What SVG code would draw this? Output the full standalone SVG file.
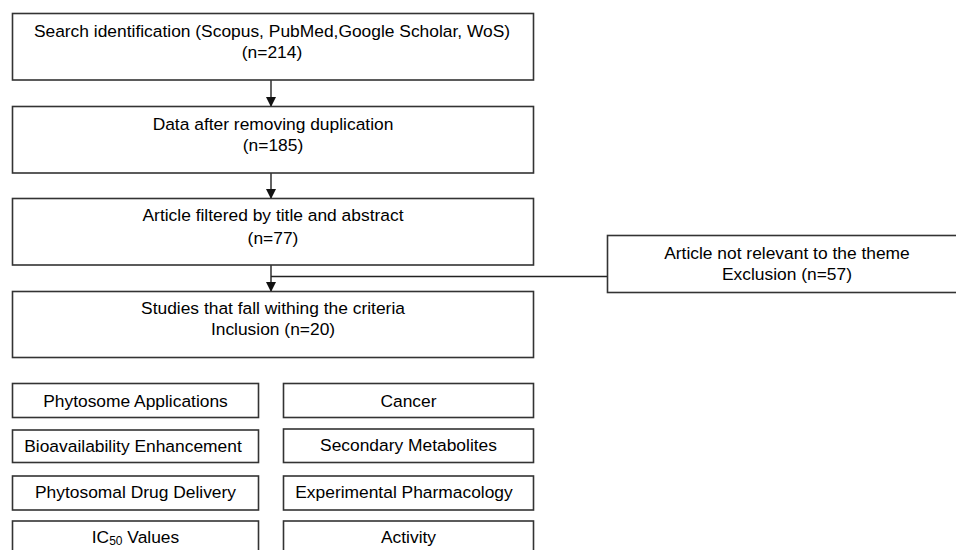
<svg xmlns="http://www.w3.org/2000/svg" width="956" height="550" viewBox="0 0 956 550">
<style>
rect{fill:#fff;stroke:#333;stroke-width:1.6}
text{font-family:"Liberation Sans",Arial,sans-serif;font-size:17.4px;fill:#000;text-anchor:middle}
.c{stroke:#222;stroke-width:1.4;fill:none}
</style>
<defs>
<marker id="ah" markerWidth="10" markerHeight="10" refX="9" refY="5" orient="auto" markerUnits="userSpaceOnUse">
<path d="M0,0 L10,5 L0,10 Z" fill="#111"/>
</marker>
</defs>
<rect x="0" y="0" width="956" height="550" style="stroke:none"/>
<g id="connectors">
<line class="c" x1="271" y1="80" x2="271" y2="106" marker-end="url(#ah)"/>
<line class="c" x1="271" y1="173" x2="271" y2="198" marker-end="url(#ah)"/>
<line class="c" x1="271" y1="265" x2="271" y2="291" marker-end="url(#ah)"/>
<line class="c" x1="271" y1="276.5" x2="607" y2="276.5"/>
</g>
<g id="n1"><rect x="12.5" y="13.5" width="521" height="66.5"/><text x="272" y="37">Search identification (Scopus, PubMed,Google Scholar, WoS)</text><text x="272" y="58">(n=214)</text></g>
<g id="n2"><rect x="12.5" y="106.5" width="521" height="66.5"/><text x="273" y="130">Data after removing duplication</text><text x="273" y="151">(n=185)</text></g>
<g id="n3"><rect x="12.5" y="198.5" width="521" height="66.5"/><text x="273" y="221">Article filtered by title and abstract</text><text x="273" y="244">(n=77)</text></g>
<g id="n4"><rect x="12.5" y="291.5" width="521" height="66"/><text x="273" y="314">Studies that fall withing the criteria</text><text x="273" y="335">Inclusion (n=20)</text></g>
<g id="n5"><rect x="607.5" y="235.5" width="352" height="57"/><text x="787" y="259">Article not relevant to the theme</text><text x="787" y="280">Exclusion (n=57)</text></g>
<g id="k1"><rect x="12.5" y="383.5" width="246" height="34"/><text x="135.5" y="407">Phytosome Applications</text></g>
<g id="k2"><rect x="283.5" y="383.5" width="250" height="34"/><text x="408.5" y="407">Cancer</text></g>
<g id="k3"><rect x="12.5" y="430" width="246" height="32.5"/><text x="133" y="452">Bioavailability Enhancement</text></g>
<g id="k4"><rect x="283.5" y="429" width="250" height="33.5"/><text x="408.5" y="451">Secondary Metabolites</text></g>
<g id="k5"><rect x="12.5" y="476" width="246" height="34"/><text x="135.5" y="498">Phytosomal Drug Delivery</text></g>
<g id="k6"><rect x="283.5" y="476" width="250" height="34"/><text x="404" y="498">Experimental Pharmacology</text></g>
<g id="k7"><rect x="12.5" y="521" width="246" height="40"/><text x="135.5" y="543">IC<tspan font-size="12" dy="2">50</tspan><tspan dy="-2"> Values</tspan></text></g>
<g id="k8"><rect x="283.5" y="521" width="250" height="40"/><text x="408.5" y="543">Activity</text></g>
</svg>
